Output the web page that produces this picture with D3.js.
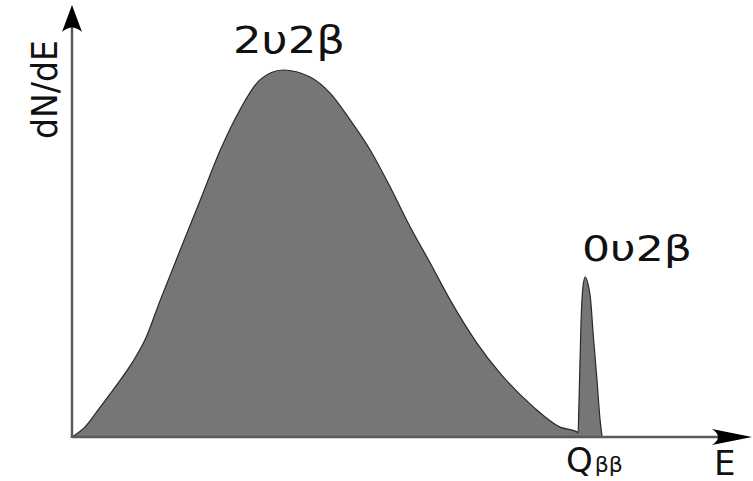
<!DOCTYPE html>
<html>
<head>
<meta charset="utf-8">
<script src="https://cdn.jsdelivr.net/npm/d3@7"></script>
<style>
  body { margin: 0; background: #fff; }
  text { font-family: "DejaVu Sans", sans-serif; fill: #111; }
</style>
</head>
<body>
<svg width="753" height="481"></svg>
<script>
// energy in units of Q_bb, dN/dE normalised to the 2v2b maximum
var twoNuE = [0, 0.025, 0.051, 0.084, 0.117, 0.142, 0.172, 0.211, 0.250, 0.289, 0.327, 0.366, 0.411,
  0.464, 0.503, 0.542, 0.581, 0.620, 0.659, 0.698, 0.737, 0.789, 0.834, 0.899, 0.951, 0.984];
var twoNuRate = [0, 0.027, 0.074, 0.136, 0.202, 0.264, 0.373, 0.510, 0.646, 0.782, 0.891, 0.973, 1.000,
  0.981, 0.937, 0.864, 0.782, 0.681, 0.572, 0.474, 0.373, 0.256, 0.174, 0.082, 0.027, 0.014];

var zeroNuE = [0.986, 0.988, 0.992, 0.996, 1.000, 1.006, 1.010, 1.016, 1.023, 1.029, 1.033];
var zeroNuRate = [0.011, 0.101, 0.319, 0.414, 0.436, 0.414, 0.381, 0.272, 0.155, 0.046, 0];

var labels = ["2\u03C52\u03B2", "0\u03C52\u03B2", "dN/dE", "E", "Q", "\u03B2\u03B2"];

var svg = d3.select('svg');

var xScale = d3.scaleLinear()
    .domain([0, 1.325])
    .range([72, 752]);

var yScale = d3.scaleLinear()
    .domain([0, 1])
    .range([437, 70]);

var spectrum = [];
for (var i = 0; i < twoNuE.length; i++) spectrum.push({e: twoNuE[i], r: twoNuRate[i]});
for (var j = 0; j < zeroNuE.length; j++) spectrum.push({e: zeroNuE[j], r: zeroNuRate[j]});

var area = d3.area()
    .x(d => xScale(d.e))
    .y0(yScale(0))
    .y1(d => yScale(d.r))
    .curve(d3.curveMonotoneX);

svg.append('path')
    .datum(spectrum)
    .attr('d', area)
    .attr('fill', '#767676')
    .attr('stroke', '#2a2a2a')
    .attr('stroke-width', 1.2);

// axes
var x0 = xScale(0), y0 = yScale(0);
var xEnd = xScale.range()[1], yTop = 5;

svg.append('line')
    .attr('x1', x0).attr('y1', y0)
    .attr('x2', xEnd - 20).attr('y2', y0)
    .attr('stroke', '#5a5a5a').attr('stroke-width', 2.5);

svg.append('line')
    .attr('x1', x0).attr('y1', y0 + 1)
    .attr('x2', x0).attr('y2', yTop + 20)
    .attr('stroke', '#5a5a5a').attr('stroke-width', 2.5);

// arrow heads
svg.append('path')
    .attr('d', 'M' + xEnd + ',' + y0 + 'L' + (xEnd - 40) + ',' + (y0 - 8) +
      'Q' + (xEnd - 28) + ',' + y0 + ' ' + (xEnd - 40) + ',' + (y0 + 8) + 'Z')
    .attr('fill', '#000');

svg.append('path')
    .attr('d', 'M' + x0 + ',' + yTop + 'L' + (x0 - 10) + ',' + (yTop + 27) +
      'Q' + x0 + ',' + (yTop + 18) + ' ' + (x0 + 10) + ',' + (yTop + 27) + 'Z')
    .attr('fill', '#000');

// labels
svg.append('text')
    .attr('x', 233).attr('y', 53)
    .attr('font-size', 37)
    .attr('textLength', 112).attr('lengthAdjust', 'spacingAndGlyphs')
    .text(labels[0]);

svg.append('text')
    .attr('x', 582).attr('y', 261)
    .attr('font-size', 36)
    .attr('textLength', 110).attr('lengthAdjust', 'spacingAndGlyphs')
    .text(labels[1]);

svg.append('text')
    .attr('transform', 'translate(57,139)rotate(-90)')
    .attr('font-size', 36)
    .attr('textLength', 99).attr('lengthAdjust', 'spacingAndGlyphs')
    .text(labels[2]);

svg.append('text')
    .attr('x', 714).attr('y', 475)
    .attr('font-size', 34)
    .text(labels[3]);

var q = svg.append('text')
    .attr('x', 566).attr('y', 472)
    .attr('font-size', 34);
q.append('tspan').text(labels[4]);
q.append('tspan').attr('font-size', 22).attr('dx', 2).text(labels[5]);
</script>
</body>
</html>
